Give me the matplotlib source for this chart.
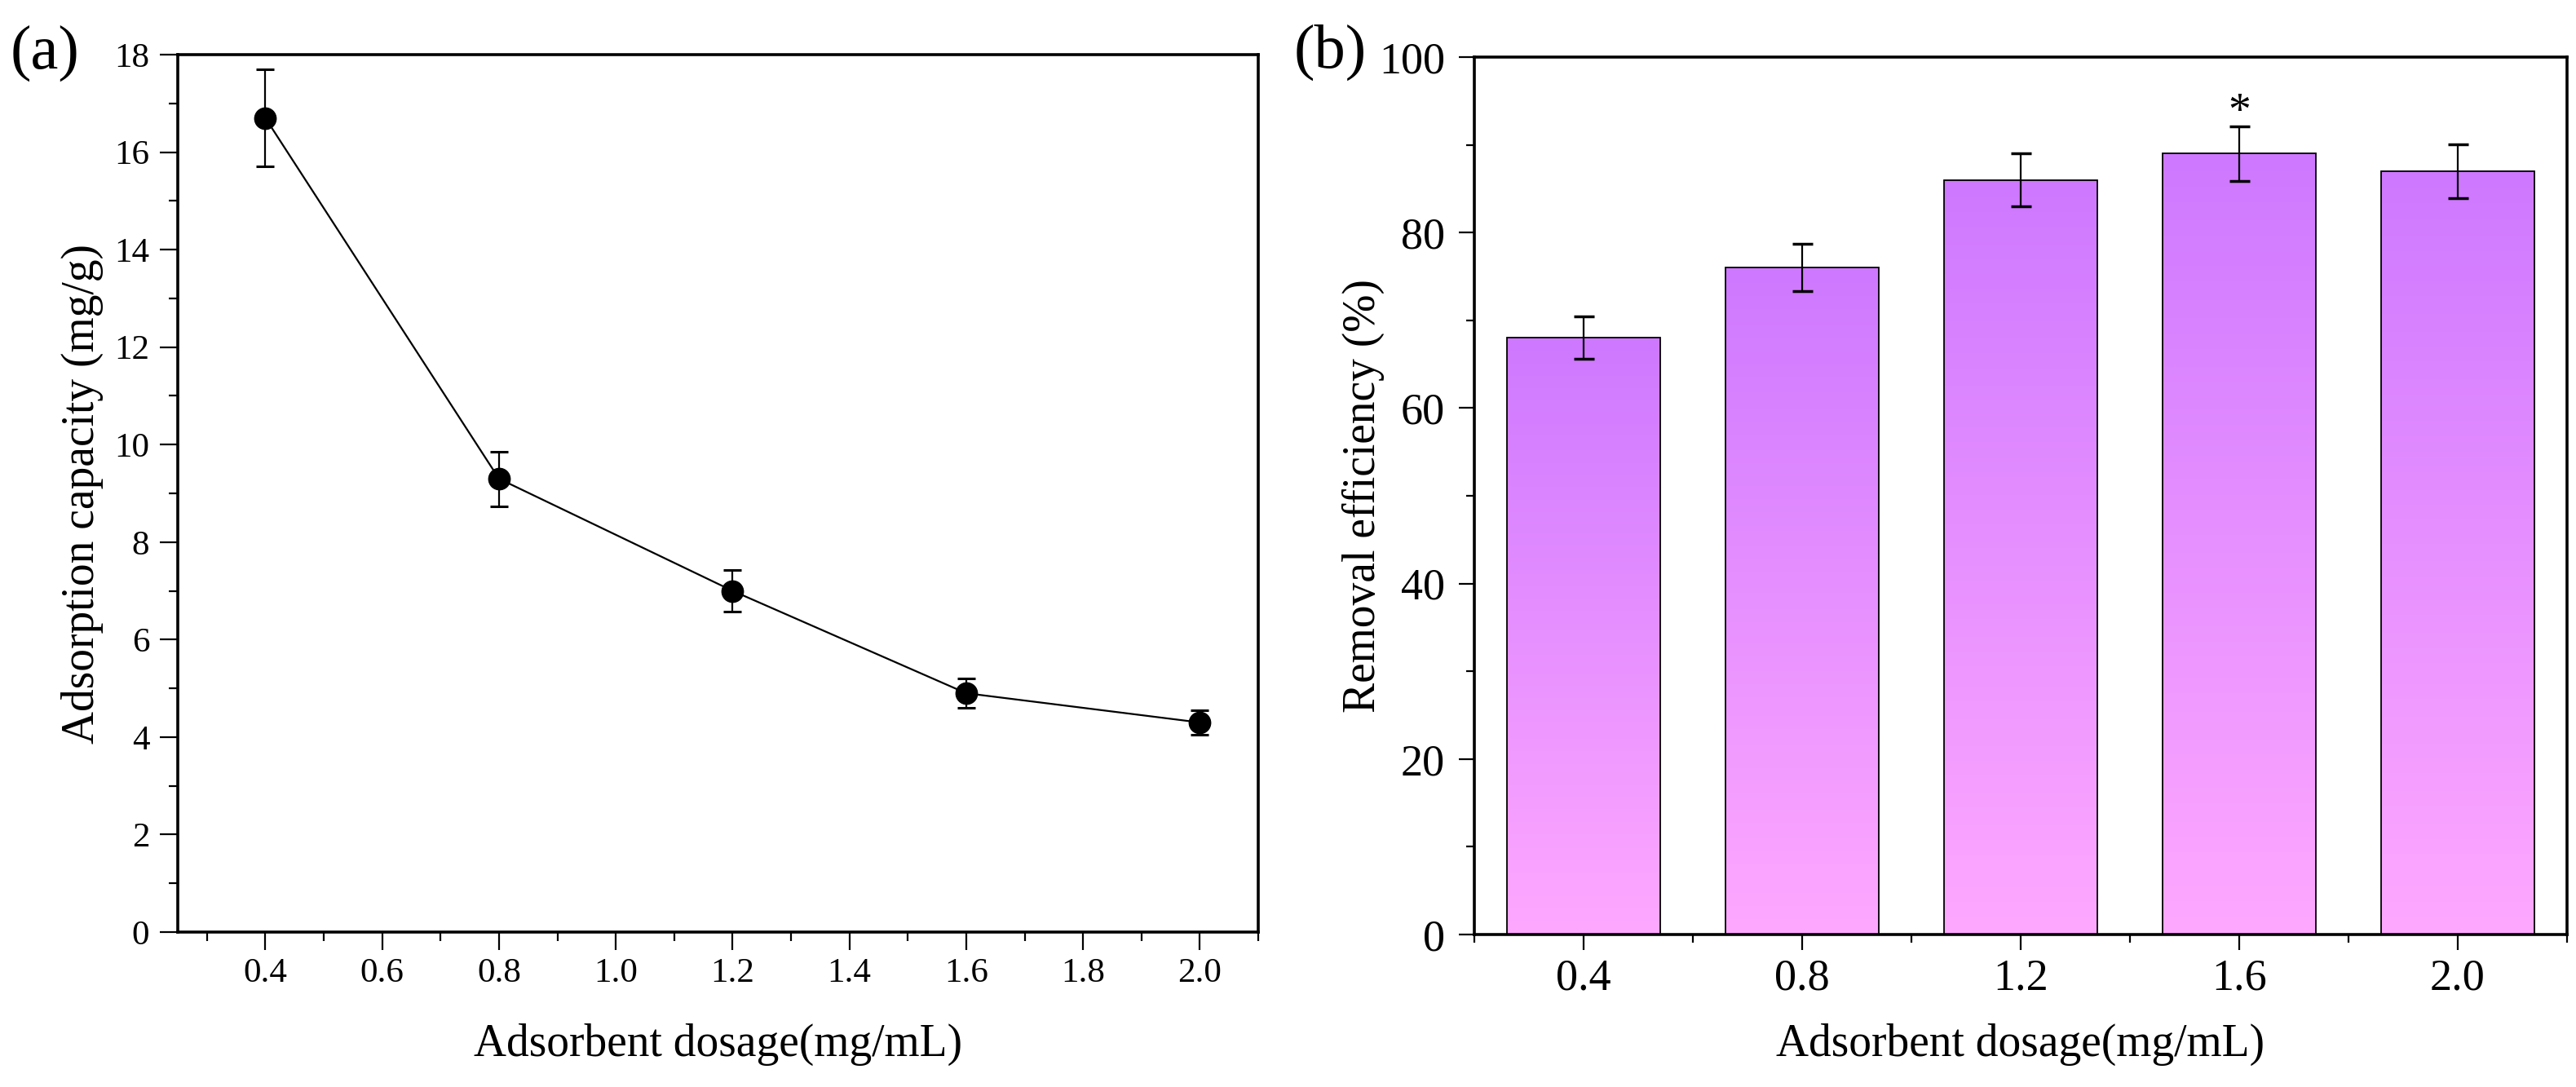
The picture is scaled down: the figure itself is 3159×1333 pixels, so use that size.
import numpy as np
import matplotlib.pyplot as plt
from matplotlib.colors import LinearSegmentedColormap
from matplotlib.ticker import MultipleLocator, FixedLocator, FormatStrFormatter

plt.rcParams["font.family"] = ["Liberation Serif", "DejaVu Serif"]

# data
dosage = [0.4, 0.8, 1.2, 1.6, 2.0]
dosage_labels = ["0.4", "0.8", "1.2", "1.6", "2.0"]
capacity = [16.7, 9.3, 7.0, 4.9, 4.3]
capacity_err = [1.0, 0.56, 0.42, 0.3, 0.25]
efficiency = [68, 76, 86, 89, 87]
efficiency_err = [2.4, 2.7, 3.0, 3.1, 3.1]
star_bar = 3

W, H = 3159, 1333
fig = plt.figure(figsize=(W / 100, H / 100), dpi=100)
ax1 = fig.add_axes([218 / W, 1 - 1143 / H, (1543 - 218) / W, (1143 - 67) / H])
ax2 = fig.add_axes([1808 / W, 1 - 1146 / H, (3148 - 1808) / W, (1146 - 70) / H])

# (a) adsorption capacity
ax1.errorbar(dosage, capacity, yerr=capacity_err, color="black", marker="o",
             markersize=19, linewidth=1.6, elinewidth=1.6, capsize=8, capthick=2.2)
ax1.set_xlim(0.25, 2.1)
ax1.set_ylim(0, 18)
ax1.xaxis.set_major_locator(FixedLocator(dosage + [1.0, 0.6, 1.4, 1.8]))
ax1.xaxis.set_minor_locator(FixedLocator(np.round(np.arange(0.3, 2.15, 0.2), 2)))
ax1.xaxis.set_major_formatter(FormatStrFormatter("%.1f"))
ax1.yaxis.set_major_locator(MultipleLocator(2))
ax1.yaxis.set_minor_locator(MultipleLocator(1))
ax1.tick_params(which="major", direction="out", length=16, width=1.6, labelsize=31, pad=7)
ax1.tick_params(which="minor", direction="out", length=8, width=1.6)
ax1.tick_params(axis="y", which="major", pad=9)
ax1.set_xlabel("Adsorbent dosage(mg/mL)", fontsize=40)
ax1.set_ylabel("Adsorption capacity (mg/g)", fontsize=40)
ax1.xaxis.set_label_coords(0.5, -0.104)
ax1.yaxis.set_label_coords(-0.069, 0.5)

# (b) removal efficiency, bars with vertical gradient
pos = np.arange(len(efficiency))
cmap = LinearSegmentedColormap.from_list("pinkpurple", ["#FFA8FF", "#CE78FF"])
grad = np.linspace(0, 1, 256).reshape(-1, 1)
bars = ax2.bar(pos, efficiency, width=0.7, facecolor="none", edgecolor="black",
               linewidth=1.3, zorder=3)
for b in bars:
    x0 = b.get_x()
    ax2.imshow(grad, extent=[x0, x0 + b.get_width(), 0, b.get_height()],
               origin="lower", aspect="auto", cmap=cmap, zorder=2)
ax2.errorbar(pos, efficiency, yerr=efficiency_err, fmt="none", ecolor="black",
             elinewidth=1.6, capsize=9, capthick=2.5, zorder=4)
ax2.text(pos[star_bar], 92.3, "*", ha="center", va="baseline", fontsize=40)
ax2.set_xlim(-0.5, 4.5)
ax2.set_ylim(0, 100)
ax2.set_xticks(pos)
ax2.set_xticklabels(dosage_labels)
ax2.xaxis.set_minor_locator(FixedLocator(np.arange(-0.5, 5, 1)))
ax2.yaxis.set_major_locator(MultipleLocator(20))
ax2.yaxis.set_minor_locator(MultipleLocator(10))
ax2.tick_params(which="major", direction="out", length=14, width=1.6, labelsize=39, pad=7)
ax2.tick_params(which="minor", direction="out", length=7, width=1.6)
ax2.tick_params(axis="y", which="major", pad=12)
ax2.set_xlabel("Adsorbent dosage(mg/mL)", fontsize=40)
ax2.set_ylabel("Removal efficiency (%)", fontsize=40)
ax2.xaxis.set_label_coords(0.5, -0.101)
ax2.yaxis.set_label_coords(-0.082, 0.5)

for ax in (ax1, ax2):
    for sp in ax.spines.values():
        sp.set_linewidth(2.6)

fig.text(55 / W, 1 - 65 / H, "(a)", ha="center", va="center", fontsize=55)
fig.text(1631 / W, 1 - 64 / H, "(b)", ha="center", va="center", fontsize=55)

fig.savefig("out.png", dpi=100)
plt.close(fig)
